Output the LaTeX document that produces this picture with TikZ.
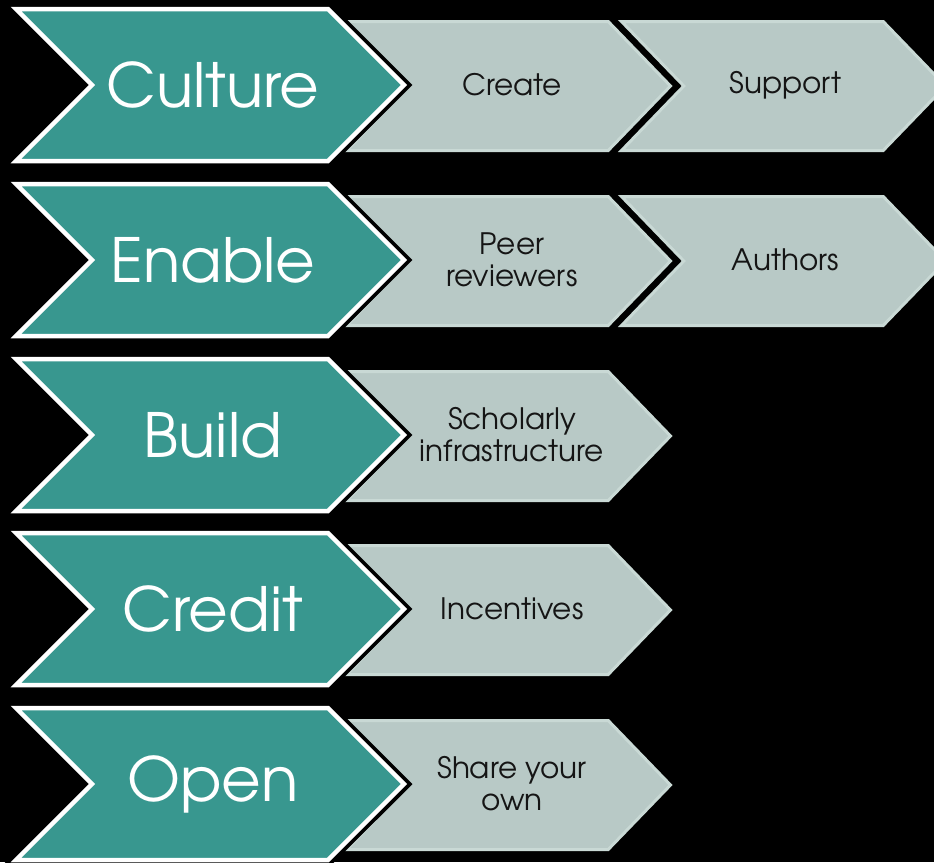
\documentclass[tikz,border=0pt]{standalone}
\usepackage{fontspec}
\setmainfont{texgyreadventor-regular.otf}
\usetikzlibrary{shapes.symbols}
\definecolor{tealc}{HTML}{38978F}
\definecolor{grayc}{HTML}{B8C9C6}
\definecolor{grayb}{HTML}{C9D9D5}
\definecolor{txt}{HTML}{151515}
\tikzset{
  mainchev/.style={signal, signal to=east, signal from=west, signal pointer angle=90,
    minimum width=388pt, minimum height=152pt, inner sep=0pt, outer sep=0pt,
    fill=tealc, draw=white, line width=4.5pt,
    preaction={draw=black, line width=12pt}},
  subchev/.style={signal, signal to=east, signal from=west, signal pointer angle=92,
    minimum width=324pt, minimum height=129pt, inner sep=0pt, outer sep=0pt,
    fill=grayc, draw=grayb, line width=3pt},
  maintxt/.style={text=white, inner sep=0pt, font=\fontsize{61}{64}\selectfont},
  subtxt/.style={text=txt, inner sep=0pt, align=center, font=\fontsize{29.5}{32}\selectfont}
}
\begin{document}
\begin{tikzpicture}[x=1pt,y=-1pt]
\fill[black] (0,0) rectangle (934,862);
\useasboundingbox (0,0) rectangle (934,862);
% row 1
\node[subchev] (s1b) at (783.5,86) {};
\node[subchev] (s1a) at (508.5,86) {};
\node[mainchev] (m1) at (210,85) {};
% row 2
\node[subchev] (s2b) at (783.5,261) {};
\node[subchev] (s2a) at (508.5,261) {};
\node[mainchev] (m2) at (210,260) {};
% row 3
\node[subchev] (s3a) at (508.5,436) {};
\node[mainchev] (m3) at (210,435) {};
% row 4
\node[subchev] (s4a) at (508.5,610) {};
\node[mainchev] (m4) at (210,609) {};
% row 5
\node[subchev] (s5a) at (508.5,785) {};
\node[mainchev] (m5) at (210,784) {};
% labels
\node[maintxt] (t1) at ([xshift=3pt]m1.center) {Culture};
\node[maintxt] (t2) at ([xshift=3pt]m2.center) {Enable};
\node[maintxt] (t3) at ([xshift=3pt]m3.center) {Build};
\node[maintxt] (t4) at ([xshift=3pt]m4.center) {Credit};
\node[maintxt] (t5) at ([xshift=3pt]m5.center) {Open};
\node[subtxt] (u1a) at ([xshift=3.5pt,yshift=1pt]s1a.center) {Create};
\node[subtxt] (u1b) at ([xshift=2pt,yshift=1pt]s1b.center) {Support};
\node[subtxt] (u2a) at ([xshift=3.5pt,yshift=1pt]s2a.center) {Peer\\reviewers};
\node[subtxt] (u2b) at ([xshift=2pt,yshift=1pt]s2b.center) {Authors};
\node[subtxt] (u3a) at ([xshift=3.5pt,yshift=1pt]s3a.center) {Scholarly\\infrastructure};
\node[subtxt] (u4a) at ([xshift=3.5pt,yshift=1pt]s4a.center) {Incentives};
\node[subtxt] (u5a) at ([xshift=3.5pt,yshift=1pt]s5a.center) {Share your\\own};
\end{tikzpicture}
\end{document}
